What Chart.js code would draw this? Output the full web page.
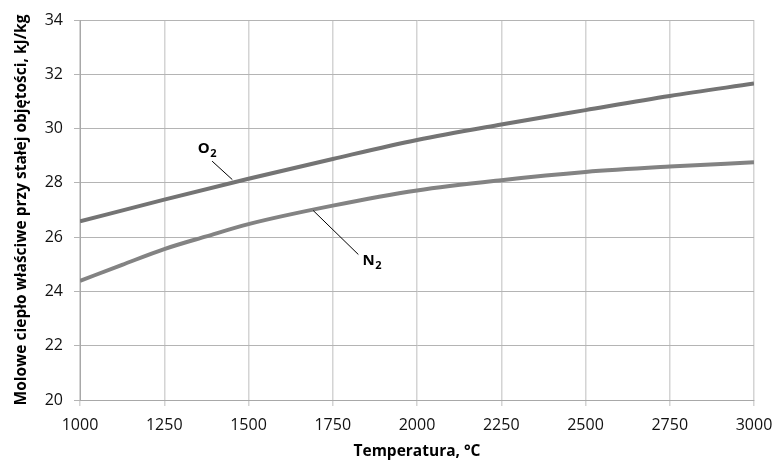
<!DOCTYPE html>
<html><head><meta charset="utf-8">
<script src="https://cdn.jsdelivr.net/npm/chart.js@4/dist/chart.umd.min.js"></script>
<style>html,body{margin:0;padding:0;background:#fff}</style>
</head><body>
<canvas id="c" width="777" height="466"></canvas>
<script>
const o2Temperatures = [1000, 1250, 1500, 1750, 2000, 2250, 2500, 2750, 3000];
const o2Values = [26.58, 27.38, 28.15, 28.88, 29.58, 30.15, 30.68, 31.20, 31.66];
const n2Temperatures = [1000, 1125, 1250, 1375, 1500, 1750, 2000, 2250, 2500, 2750, 3000];
const n2Values = [24.39, 24.98, 25.56, 26.03, 26.48, 27.16, 27.72, 28.10, 28.40, 28.60, 28.76];
const xTicks = [1000, 1250, 1500, 1750, 2000, 2250, 2500, 2750, 3000];
const yTicks = [20, 22, 24, 26, 28, 30, 32, 34];
const seriesNames = ['O', 'N'];
const seriesSub = ['2', '2'];

// label anchors (data units) for the leader-line callouts
const calloutLayout = [
  {text: [1377, 29.27], from: [1392, 28.80], to: [1452, 28.12]},
  {text: [1866, 25.13], from: [1692, 26.98], to: [1826, 25.36]}
];

const FONT = "'Open Sans', 'DejaVu Sans', sans-serif";

const calloutPlugin = {
  id: 'callouts',
  afterDatasetsDraw(chart) {
    const {ctx, scales: {x, y}} = chart;
    ctx.save();
    calloutLayout.forEach((c, i) => {
      ctx.strokeStyle = '#000';
      ctx.lineWidth = 1;
      ctx.beginPath();
      ctx.moveTo(x.getPixelForValue(c.from[0]), y.getPixelForValue(c.from[1]));
      ctx.lineTo(x.getPixelForValue(c.to[0]), y.getPixelForValue(c.to[1]));
      ctx.stroke();
      const tx = x.getPixelForValue(c.text[0]);
      const ty = y.getPixelForValue(c.text[1]);
      ctx.fillStyle = '#000';
      ctx.textBaseline = 'middle';
      ctx.textAlign = 'left';
      ctx.font = 'bold 15px ' + FONT;
      const w = ctx.measureText(seriesNames[i]).width;
      const full = w + ctx.measureText(seriesSub[i]).width * 0.75;
      const x0 = tx - full / 2;
      ctx.fillText(seriesNames[i], x0, ty);
      ctx.font = 'bold 11px ' + FONT;
      ctx.fillText(seriesSub[i], x0 + w + 0.5, ty + 5);
    });
    ctx.restore();
  }
};

new Chart(document.getElementById('c'), {
  type: 'line',
  data: {
    datasets: [
      {label: 'O2', data: o2Temperatures.map((t, i) => ({x: t, y: o2Values[i]})),
       borderColor: '#747474', borderWidth: 4, pointRadius: 0, cubicInterpolationMode: 'monotone'},
      {label: 'N2', data: n2Temperatures.map((t, i) => ({x: t, y: n2Values[i]})),
       borderColor: '#838383', borderWidth: 4, pointRadius: 0, cubicInterpolationMode: 'monotone'}
    ]
  },
  options: {
    responsive: false,
    animation: false,
    devicePixelRatio: 1,
    layout: {padding: {top: 20, right: 23, left: 0, bottom: 0}},
    plugins: {legend: {display: false}, tooltip: {enabled: false}},
    scales: {
      x: {
        type: 'linear', min: 1000, max: 3000,
        afterFit: s => { s.height = 66; s.paddingLeft = 0; s.paddingRight = 0; },
        afterBuildTicks: s => { s.ticks = xTicks.map(v => ({value: v})); },
        grid: {color: '#d4d4d4', lineWidth: 1.5, tickLength: 6, drawTicks: true},
        border: {color: '#a8a8a8', width: 1},
        ticks: {color: '#111', font: {family: FONT, size: 16}, padding: 10, maxRotation: 0,
                callback: v => String(v)},
        title: {display: true, text: 'Temperatura, °C', color: '#000',
                font: {family: FONT, size: 15.5, weight: 'bold'}, padding: {top: 4, bottom: 5}}
      },
      y: {
        min: 20, max: 34,
        afterFit: s => { s.width = 80; s.paddingTop = 0; s.paddingBottom = 0; },
        afterBuildTicks: s => { s.ticks = yTicks.map(v => ({value: v})); },
        grid: {color: '#b4b4b4', lineWidth: 1, tickLength: 6, drawTicks: true},
        border: {color: '#a8a8a8', width: 1},
        ticks: {color: '#111', font: {family: FONT, size: 16}, padding: 11, callback: v => String(v)},
        title: {display: true, text: 'Molowe ciepło właściwe przy stałej objętości, kJ/kg', color: '#000',
                font: {family: FONT, size: 15.5, weight: 'bold'}, padding: {top: 12, bottom: 0}}
      }
    }
  },
  plugins: [calloutPlugin]
});
</script>
</body></html>
